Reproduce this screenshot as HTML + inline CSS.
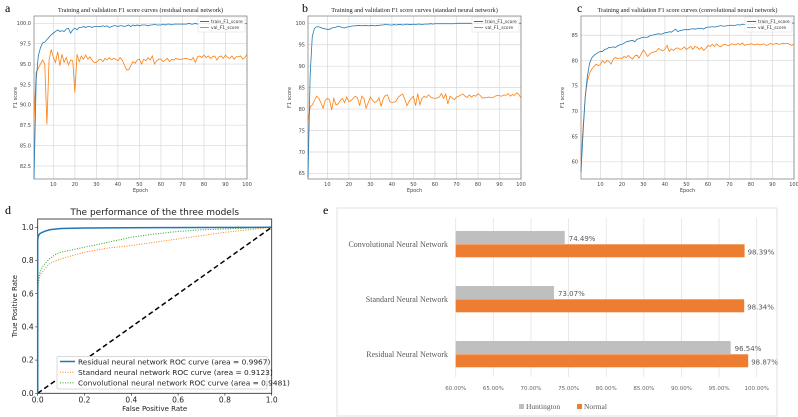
<!DOCTYPE html>
<html><head><meta charset="utf-8">
<style>
html,body{margin:0;padding:0;background:#fff;}
svg{display:block;}
text{font-family:"DejaVu Sans","Liberation Sans",sans-serif;}
.serif{font-family:"Liberation Serif",serif;}
</style></head>
<body>
<svg id="fig" width="798" height="417" viewBox="0 0 798 417" xmlns="http://www.w3.org/2000/svg">
<text class="serif" x="5" y="12" font-size="12">a</text>
<text class="serif" x="302" y="12" font-size="12">b</text>
<text class="serif" x="577" y="12" font-size="12">c</text>
<text class="serif" x="5" y="214" font-size="12">d</text>
<text class="serif" x="323" y="214" font-size="12">e</text>
</svg>
<script>
// ---- Panel a/b/c data ----
const aTrain=[59,93,96,97,97.6,97.7,98,98.3,98.6,98.8,99,99.2,99,99.1,99,99.3,99.4,98.8,99.2,99.4,99.2,99.5,99.5,99.6,99.5,99.6,99.6,99.5,99.6,99.6,99.6,99.6,99.7,99.6,99.7,99.5,99.6,99.7,99.7,99.6,99.7,99.7,99.6,99.7,99.8,99.6,99.8,99.7,99.8,99.7,99.8,99.8,99.8,99.7,99.8,99.8,99.9,99.8,99.8,99.8,99.9,99.8,99.9,99.9,99.8,99.9,99.9,99.9,99.9,99.9,99.9,99.9,100,99.9,99.9,100,99.9,100,100,100,100,100,99.9,100,100,100,100,100,100,100,100,100,100,100,100,100,100,100,100,100];
const aVal=[88,94,94.5,95,95.5,95,87.6,95.5,96.8,95.8,95.2,96.5,94.8,96.2,95.2,95.8,94.9,95.5,95.4,91.5,96.2,95.3,96,95.6,96.1,95.6,95.9,95.5,95.2,95.2,95.5,95.6,95.3,95.7,95.5,95.8,95.5,95.7,95.6,95.4,95.8,95.5,94.9,94.3,94.3,94.8,95.3,95.1,95.5,95.6,95,95.6,95.4,95.8,95.5,96,95,95.4,95.6,95.6,95.3,95.5,95.7,95.3,95.6,95.5,95.7,95.6,95.6,95.6,95.7,95.7,95.6,95.5,95.8,95.2,95.9,96,95.8,96.1,95.8,96,95.7,95.9,96,95.5,95.9,96,95.7,96.1,95.8,95.7,96,95.6,95.9,95.9,96,95.6,95.8,96.2];
const bTrain=[64,88,97,98.8,99.2,99.2,99,98.8,98.7,98.6,98.6,98.9,99,99.1,99.3,99.2,99,98.9,99.1,99.2,99.3,99.4,99.4,99.5,99.5,99.4,99.5,99.5,99.4,99.5,99.5,99.4,99.5,99.5,99.6,99.6,99.8,99.7,99.6,99.6,99.7,99.6,99.7,99.7,99.6,99.7,99.8,99.7,99.7,99.8,99.7,99.8,99.8,99.7,99.8,99.8,99.8,99.9,99.8,99.9,99.9,99.9,99.9,99.9,99.9,99.9,99.9,99.9,99.9,100,100,100,100,100,100,100,100,100,100,100,100,100,100,100,100,100,100,100,100,100,100,100,100,100,100,100,100,100,100,100];
const bVal=[77,80.5,81,82,83,82.5,81.5,80.2,82,82.5,82.2,79.8,82.5,81,81.2,82,82.5,81.5,82.8,81.7,82,82.5,83,82.6,80.8,83,82.5,80.2,81.5,82.8,82,81.5,81.8,82.6,80.6,82.5,83.2,83.3,81.7,81.6,81.6,81.9,82.8,83.2,83.5,82.3,80.8,81.8,82.5,83,80.8,83.6,81,82.5,83,82.7,83.3,82.8,82.6,82.5,82.6,82.8,83.6,82.5,83.5,81.2,83,82.6,82.2,82.8,83,83.3,83.5,83,82.7,83.3,82.8,83.2,83,83.6,83.2,82.6,82.6,82.7,82.8,82.7,82.7,83,83.2,83.1,83,83.3,83.2,83.6,83,83.4,83.2,83.8,83.4,82.6];
const cTrain=[58,66,73,77,79.5,80.5,81,81.3,81.6,81.8,81.8,82.2,82.3,82.6,82.6,82.7,82.6,82.9,83.1,83.2,83.4,83.7,83.8,83.9,84,83.7,84.2,84.3,84.5,84.6,84.6,84.6,84.9,85,85.1,85.2,85.3,85.2,85.3,85.5,85.5,85.7,85.6,85.9,86.2,85.7,85.9,86,86.1,86.1,86.1,86.2,86.3,86.2,86.3,86.3,86.4,86.2,86.5,86.6,86.6,86.7,86.6,86.7,86.8,86.9,86.8,86.8,86.9,86.9,87,86.9,87,87.1,87,87.2,87.1,87.1,87.2,87.2,87.1,87.3,87.2,87.3,87.2,87.3,87.4,87.3,87.3,87.4,87.4,87.3,87.5,87.4,87.4,87.5,87.5,87.4,87.5,87.3];
const cVal=[60,67,73,76,77.5,78.3,78.8,79.3,79,79.2,80,79.5,80,79.8,79.3,80.3,80.6,80.4,80.5,80.4,80.8,80.6,81,80.6,80.3,80.9,81.1,80.5,81.3,82.1,81.5,80.8,81.3,81.6,81.7,81.8,82.4,82.1,81.9,82.2,83,81.8,82.3,82,82.4,82.5,82.2,82.3,82.7,82.2,82.5,82.8,82.2,82.8,82.6,82.2,82.6,82,82.4,83,82.8,83.2,82.8,83.3,82.9,82.7,83.1,83.2,83,83,83.3,83.2,83.1,83.4,83.1,83.5,83,83.2,83.2,83.3,83.2,83.1,83.3,83.1,83.2,83.3,83,83.1,83.4,83.2,83.3,83.4,83.2,83.3,83.4,83.3,83.4,83.2,83,83.3];
const epochTicks=[10,20,30,40,50,60,70,80,90,100];
const aYTickVals=[82.5,85,87.5,90,92.5,95,97.5,100];
const bYTicks=[65,70,75,80,85,90,95,100];
const cYTicks=[60,65,70,75,80,85];
// ---- Panel d data ----
const rocResFpr=[0,0,0.005,0.01,0.02,0.03,0.05,0.08,0.1,0.2,0.5,1];
const rocResTpr=[0,0.93,0.955,0.963,0.97,0.976,0.985,0.99,0.993,0.996,0.998,1];
const rocStdFpr=[0,0,0.005,0.01,0.02,0.03,0.05,0.08,0.1,0.15,0.2,0.3,0.4,0.5,0.6,0.7,0.8,0.9,1];
const rocStdTpr=[0,0.62,0.68,0.71,0.73,0.75,0.78,0.8,0.81,0.83,0.85,0.875,0.89,0.91,0.93,0.95,0.97,0.985,1];
const rocConvFpr=[0,0,0.005,0.01,0.02,0.03,0.05,0.08,0.1,0.15,0.2,0.3,0.4,0.5,0.6,0.7,0.8,0.9,1];
const rocConvTpr=[0,0.65,0.7,0.73,0.76,0.78,0.81,0.84,0.85,0.865,0.88,0.91,0.94,0.96,0.975,0.985,0.99,0.995,1];
const rocTicks=[0,0.2,0.4,0.6,0.8,1.0];
// ---- Panel e data ----
const eCategories=["Convolutional Neural Network","Standard Neural Network","Residual Neural Network"];
const eHuntington=[74.49,73.07,96.54];
const eNormal=[98.39,98.34,98.87];
const eTicks=[60,65,70,75,80,85,90,95,100];

const NS="http://www.w3.org/2000/svg";
const svg=document.getElementById('fig');
function mk(tag,attrs,parent){const e=document.createElementNS(NS,tag);for(const k in attrs)e.setAttribute(k,attrs[k]);(parent||svg).appendChild(e);return e;}
function txt(x,y,s,size,attrs,parent){const t=mk('text',Object.assign({x:x,y:y,'font-size':size},attrs||{}),parent);t.textContent=s;return t;}

function linePanel(id,P,ymin,ymax,yTickVals,yTickLabels,train,val,title){
  const g=mk('g',{});
  
  
  const xs=e=>P.x0+(e-1)/(99)*(P.x1-P.x0);
  const ys=v=>P.y1-(v-ymin)/(ymax-ymin)*(P.y1-P.y0);
  for(const t of epochTicks){
    const gl=mk('line',{x1:xs(t),x2:xs(t),y1:P.y0,y2:P.y1,stroke:'#d8d8d8','stroke-width':0.7},g);
    
    
    const tl=txt(xs(t),P.y1+7,String(t),5,{'text-anchor':'middle',fill:'#444'},g);
    
    
  }
  yTickVals.forEach((v,i)=>{
    const gl=mk('line',{x1:P.x0,x2:P.x1,y1:ys(v),y2:ys(v),stroke:'#d8d8d8','stroke-width':0.7},g);
    
    
    const tl=txt(P.x0-3,ys(v)+1.8,yTickLabels[i],5,{'text-anchor':'end',fill:'#444'},g);
    
    
  });
  const fr=mk('rect',{x:P.x0,y:P.y0,width:P.x1-P.x0,height:P.y1-P.y0,fill:'none',stroke:'#777','stroke-width':0.7},g);
  
  
  const path=(arr)=>arr.map((v,i)=>(i?'L':'M')+xs(i+1).toFixed(2)+','+ys(Math.max(ymin,v)).toFixed(2)).join('');
  const lv=mk('path',{d:path(val),fill:'none',stroke:'#ff7f0e','stroke-width':0.8},g);
  
  
  const lt=mk('path',{d:path(train),fill:'none',stroke:'#1f77b4','stroke-width':0.8},g);
  
  
  const tt=txt((P.x0+P.x1)/2,P.y0-4,title,6.3,{'text-anchor':'middle',class:'serif',fill:'#222'},g);
  
  
  const xl=txt((P.x0+P.x1)/2,P.y1+13,'Epoch',5,{'text-anchor':'middle',fill:'#444'},g);
  
  
  const yl=txt(0,0,'F1 score',5,{'text-anchor':'middle',fill:'#444',transform:`translate(${P.x0-17},${(P.y0+P.y1)/2}) rotate(-90)`},g);
  
  
  const lg=mk('g',{},g);
  
  
  const lx=P.x1-49, ly=P.y0+1;
  mk('rect',{x:lx,y:ly,width:47,height:15,fill:'#fff','fill-opacity':0.85,stroke:'#ddd','stroke-width':0.5},lg);
  mk('line',{x1:lx+2,x2:lx+11,y1:ly+4.5,y2:ly+4.5,stroke:'#1f77b4','stroke-width':1},lg);
  txt(lx+13,ly+6.2,'train_F1_score',4.4,{fill:'#333'},lg);
  mk('line',{x1:lx+2,x2:lx+11,y1:ly+10.5,y2:ly+10.5,stroke:'#ff7f0e','stroke-width':1},lg);
  txt(lx+13,ly+12.2,'val_F1_score',4.4,{fill:'#333'},lg);
}
linePanel('panel-a',{x0:34,x1:247,y0:16,y1:179},80.9,100.9,aYTickVals,aYTickVals.map(v=>v.toFixed(1)),aTrain,aVal,'Training and validation F1 score curves (residual neural network)');
linePanel('panel-b',{x0:308,x1:521,y0:16,y1:179},63.7,101.7,bYTicks,bYTicks.map(String),bTrain,bVal,'Training and validation F1 score curves (standard neural network)');
linePanel('panel-c',{x0:581,x1:794,y0:16,y1:179},56.6,88.8,cYTicks,cYTicks.map(String),cTrain,cVal,'Training and validation F1 score curves (convolutional neural network)');

// ---- Panel d ----
(function(){
  const g=mk('g',{});
  
  
  const P={x0:37.7,x1:271.7,y0:219,y1:393.3};
  const xs=v=>P.x0+v*(P.x1-P.x0);
  const ys=v=>P.y1-v*166;
  mk('rect',{x:P.x0,y:P.y0,width:P.x1-P.x0,height:P.y1-P.y0,fill:'none',stroke:'#222','stroke-width':0.8},g);
  for(const t of rocTicks){
    mk('line',{x1:xs(t),x2:xs(t),y1:P.y1,y2:P.y1+2.5,stroke:'#222','stroke-width':0.6},g);
    const a=txt(xs(t),P.y1+9,t.toFixed(1),7.5,{'text-anchor':'middle',fill:'#222'},g);
    
    
    mk('line',{x1:P.x0-2.5,x2:P.x0,y1:ys(t),y2:ys(t),stroke:'#222','stroke-width':0.6},g);
    const b=txt(P.x0-4,ys(t)+2.6,t.toFixed(1),7.5,{'text-anchor':'end',fill:'#222'},g);
    
    
  }
  const pth=(fx,fy)=>fx.map((v,i)=>(i?'L':'M')+xs(v).toFixed(2)+','+ys(fy[i]).toFixed(2)).join('');
  const dg=mk('line',{x1:xs(0),y1:ys(0),x2:xs(1),y2:ys(1),stroke:'#000','stroke-width':1.5,'stroke-dasharray':'5,3'},g);
  
  
  const s=mk('path',{d:pth(rocStdFpr,rocStdTpr),fill:'none',stroke:'#ff7f0e','stroke-width':1,'stroke-dasharray':'1,1.5'},g);
  
  
  const c=mk('path',{d:pth(rocConvFpr,rocConvTpr),fill:'none',stroke:'#2ca02c','stroke-width':1,'stroke-dasharray':'1,1.5'},g);
  
  
  const r=mk('path',{d:pth(rocResFpr,rocResTpr),fill:'none',stroke:'#1f77b4','stroke-width':1.5},g);
  
  
  const t=txt((P.x0+P.x1)/2,215,'The performance of the three models',9,{'text-anchor':'middle',fill:'#222'},g);
  
  
  const xl=txt((P.x0+P.x1)/2,411,'False Positive Rate',7,{'text-anchor':'middle',fill:'#222'},g);
  
  
  const yl=txt(0,0,'True Positive Rate',7,{'text-anchor':'middle',fill:'#222',transform:`translate(17,${(P.y0+P.y1)/2}) rotate(-90)`},g);
  
  
  const lg=mk('g',{},g);
  
  
  mk('rect',{x:57,y:356.5,width:210,height:32.5,fill:'#fff',stroke:'#ccc','stroke-width':0.7,rx:1.5},lg);
  const items=[['Residual neural network ROC curve (area = 0.9967)','#1f77b4','none',1.5],['Standard neural network ROC curve (area = 0.9123)','#ff7f0e','1,1.5',1],['Convolutional neural network ROC curve (area = 0.9481)','#2ca02c','1,1.5',1]];
  items.forEach((it,i)=>{const y=361.5+i*10.7;
    mk('line',{x1:60,x2:75,y1:y,y2:y,stroke:it[1],'stroke-width':it[3],'stroke-dasharray':it[2]},lg);
    txt(78,y+2.8,it[0],7.4,{fill:'#222'},lg);});
})();

// ---- Panel e ----
(function(){
  const g=mk('g',{});
  
  
  mk('rect',{x:337,y:208,width:440,height:208,fill:'#fff',stroke:'#d9d9d9','stroke-width':0.8},g);
  const xs=v=>455.7+(v-60)*7.525;
  for(const t of eTicks){
    mk('line',{x1:xs(t),x2:xs(t),y1:218,y2:377,stroke:'#e4e4e4','stroke-width':0.8},g);
    const l=txt(xs(t),390,t.toFixed(2)+'%',5.5,{'text-anchor':'middle',fill:'#666'},g);
    
    
  }
  eCategories.forEach((cat,i)=>{
    const top=231+i*55;
    const hb=mk('rect',{x:xs(60),y:top,width:xs(eHuntington[i])-xs(60),height:13,fill:'#bfbfbf'},g);
    
    
    const nb=mk('rect',{x:xs(60),y:top+13.3,width:xs(eNormal[i])-xs(60),height:13,fill:'#ed7d31'},g);
    
    
    const hl=txt(xs(eHuntington[i])+4,top+10,eHuntington[i].toFixed(2)+'%',7,{fill:'#595959'},g);
    
    
    const nl=txt(xs(eNormal[i])+3,top+23.5,eNormal[i].toFixed(2)+'%',7,{fill:'#595959'},g);
    
    
    const cl=txt(448,top+16,cat,8,{'text-anchor':'end',class:'serif',fill:'#595959'},g);
    
    
  });
  const lg=mk('g',{},g);
  
  
  mk('rect',{x:519,y:404,width:5,height:5,fill:'#bfbfbf'},lg);
  txt(526,409,'Huntington',7.5,{class:'serif',fill:'#595959'},lg);
  mk('rect',{x:577,y:404,width:5,height:5,fill:'#ed7d31'},lg);
  txt(584,409,'Normal',7.5,{class:'serif',fill:'#595959'},lg);
})();
</script>
</body></html>
